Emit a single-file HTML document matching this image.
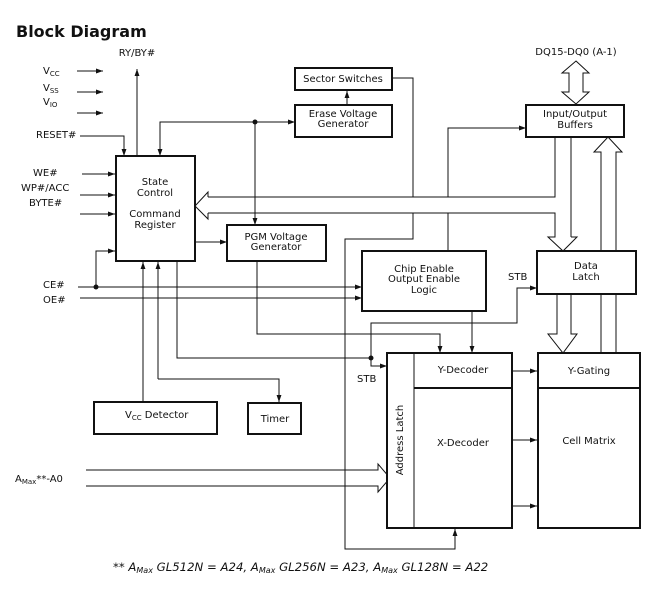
<!DOCTYPE html>
<html><head><meta charset="utf-8"><style>
html,body{margin:0;padding:0;background:#fff;}
svg{display:block;}
text{font-family:"DejaVu Sans","Liberation Sans",sans-serif;font-size:10px;fill:#111;}
</style></head><body>
<svg width="665" height="591" viewBox="0 0 665 591" xmlns="http://www.w3.org/2000/svg">
<defs>
<marker id="a" viewBox="0 0 10 10" refX="10" refY="5" markerWidth="7" markerHeight="7" orient="auto-start-reverse" markerUnits="userSpaceOnUse"><path d="M0,1.5 L10,5 L0,8.5 z" fill="#111"/></marker>
</defs>
<text x="16" y="37" style="font-family:'DejaVu Sans','Liberation Sans',sans-serif;font-size:16px;font-weight:bold">Block Diagram</text>

<g fill="none" stroke="#111" stroke-width="1">
<line x1="77" y1="71" x2="103" y2="71" marker-end="url(#a)"/>
<line x1="77" y1="92" x2="103" y2="92" marker-end="url(#a)"/>
<line x1="77" y1="113" x2="103" y2="113" marker-end="url(#a)"/>
<polyline points="80,136 124,136 124,156" marker-end="url(#a)"/>
<line x1="137" y1="156" x2="137" y2="69" marker-end="url(#a)"/>
<line x1="82" y1="174" x2="115" y2="174" marker-end="url(#a)"/>
<line x1="80" y1="195" x2="115" y2="195" marker-end="url(#a)"/>
<line x1="80" y1="214" x2="115" y2="214" marker-end="url(#a)"/>
<line x1="78" y1="287" x2="362" y2="287" marker-end="url(#a)"/>
<line x1="80" y1="298" x2="362" y2="298" marker-end="url(#a)"/>
<polyline points="96,287 96,251 115,251" marker-end="url(#a)"/>
<polyline points="160,156 160,122 295,122" marker-end="url(#a)" marker-start="url(#a)"/>
<line x1="255" y1="122" x2="255" y2="225" marker-end="url(#a)"/>
<line x1="347" y1="105" x2="347" y2="91" marker-end="url(#a)"/>
<line x1="195" y1="242" x2="227" y2="242" marker-end="url(#a)"/>
<polyline points="208,197 555,197 555,137"/>
<polyline points="208,213 555,213 555,237"/>
<polyline points="392,78 413,78 413,197"/>
<polyline points="448,197 448,128 526,128" marker-end="url(#a)"/>
<line x1="448" y1="213" x2="448" y2="251"/>
<polyline points="413,213 413,239 345,239 345,549 455,549 455,529" marker-end="url(#a)"/>
<line x1="571" y1="137" x2="571" y2="237"/>
<line x1="472" y1="311" x2="472" y2="353" marker-end="url(#a)"/>
<polyline points="257,261 257,334 440,334 440,353" marker-end="url(#a)"/>
<polyline points="371,358 371,323 517,323 517,288 537,288" marker-end="url(#a)"/>
<polyline points="371,358 371,366 387,366" marker-end="url(#a)"/>
<polyline points="177,261 177,358 371,358"/>
<line x1="158" y1="379" x2="158" y2="262" marker-end="url(#a)"/>
<polyline points="158,379 279,379 279,402" marker-end="url(#a)"/>
<line x1="143" y1="402" x2="143" y2="262" marker-end="url(#a)"/>
<line x1="512" y1="371" x2="537" y2="371" marker-end="url(#a)"/>
<line x1="512" y1="440" x2="537" y2="440" marker-end="url(#a)"/>
<line x1="512" y1="506" x2="537" y2="506" marker-end="url(#a)"/>
<path d="M555,213 V237 H548 L563,251 L577,237 H571" />
<path d="M557,294 V334 H548 L563,353 L577,334 H571 V294"/>
<path d="M601,353 V152 H594 L608,137 L622,152 H616 V353"/>
<path d="M576,61 L589,73 H583 V92 H589 L576,104 L562,92 H569 V73 H562 Z"/>
<path d="M208,197 V192 L195,206 L208,219 V213"/>
<path d="M86,470 H378 V464 L390,478 L378,492 V486 H86"/>
</g>
<g fill="#111">
<circle cx="255" cy="122" r="2.5"/>
<circle cx="96" cy="287" r="2.5"/>
<circle cx="371" cy="358" r="2.5"/>
</g>

<g fill="#fff" stroke="#111" stroke-width="2">
<rect x="116" y="156" width="79" height="105"/>
<rect x="295" y="68" width="97" height="22"/>
<rect x="295" y="105" width="97" height="32"/>
<rect x="227" y="225" width="99" height="36"/>
<rect x="526" y="105" width="98" height="32"/>
<rect x="537" y="251" width="99" height="43"/>
<rect x="362" y="251" width="124" height="60"/>
<rect x="387" y="353" width="125" height="175"/>
<rect x="538" y="353" width="102" height="175"/>
<rect x="94" y="402" width="123" height="32"/>
<rect x="248" y="403" width="53" height="31"/>
<line x1="414" y1="353" x2="414" y2="528" stroke-width="1"/>
<line x1="414" y1="388" x2="512" y2="388"/>
<line x1="538" y1="388" x2="640" y2="388"/>
</g>

<g text-anchor="middle">
<text x="137" y="56">RY/BY#</text>
<text x="576" y="55">DQ15-DQ0 (A-1)</text>
<text x="155" y="185">State</text>
<text x="155" y="196">Control</text>
<text x="155" y="217">Command</text>
<text x="155" y="228">Register</text>
<text x="343" y="82">Sector Switches</text>
<text x="343" y="117">Erase Voltage</text>
<text x="343" y="127">Generator</text>
<text x="276" y="240">PGM Voltage</text>
<text x="276" y="250">Generator</text>
<text x="575" y="117">Input/Output</text>
<text x="575" y="128">Buffers</text>
<text x="586" y="269">Data</text>
<text x="586" y="280">Latch</text>
<text x="424" y="272">Chip Enable</text>
<text x="424" y="282">Output Enable</text>
<text x="424" y="293">Logic</text>
<text x="463" y="373">Y-Decoder</text>
<text x="463" y="446">X-Decoder</text>
<text x="589" y="374">Y-Gating</text>
<text x="589" y="444">Cell Matrix</text>
<text x="275" y="422">Timer</text>
<text x="403" y="440" transform="rotate(-90 403 440)">Address Latch</text>
</g>
<text x="43" y="74">V<tspan font-size="7" dy="2">CC</tspan></text>
<text x="43" y="91">V<tspan font-size="7" dy="2">SS</tspan></text>
<text x="43" y="105">V<tspan font-size="7" dy="2">IO</tspan></text>
<text x="36" y="138">RESET#</text>
<text x="33" y="176">WE#</text>
<text x="21" y="191">WP#/ACC</text>
<text x="29" y="206">BYTE#</text>
<text x="43" y="288">CE#</text>
<text x="43" y="303">OE#</text>
<text x="508" y="280">STB</text>
<text x="357" y="382">STB</text>
<text x="125" y="418">V<tspan font-size="7" dy="2">CC</tspan><tspan dy="-2"> Detector</tspan></text>
<text x="15" y="482">A<tspan font-size="7" dy="2">Max</tspan><tspan dy="-2">**-A0</tspan></text>
<text x="113" y="571" font-style="italic" style="font-size:11.7px">** A<tspan font-size="8" dy="2">Max</tspan><tspan dy="-2"> GL512N = A24, A</tspan><tspan font-size="8" dy="2">Max</tspan><tspan dy="-2"> GL256N = A23, A</tspan><tspan font-size="8" dy="2">Max</tspan><tspan dy="-2"> GL128N = A22</tspan></text>
</svg>
</body></html>
